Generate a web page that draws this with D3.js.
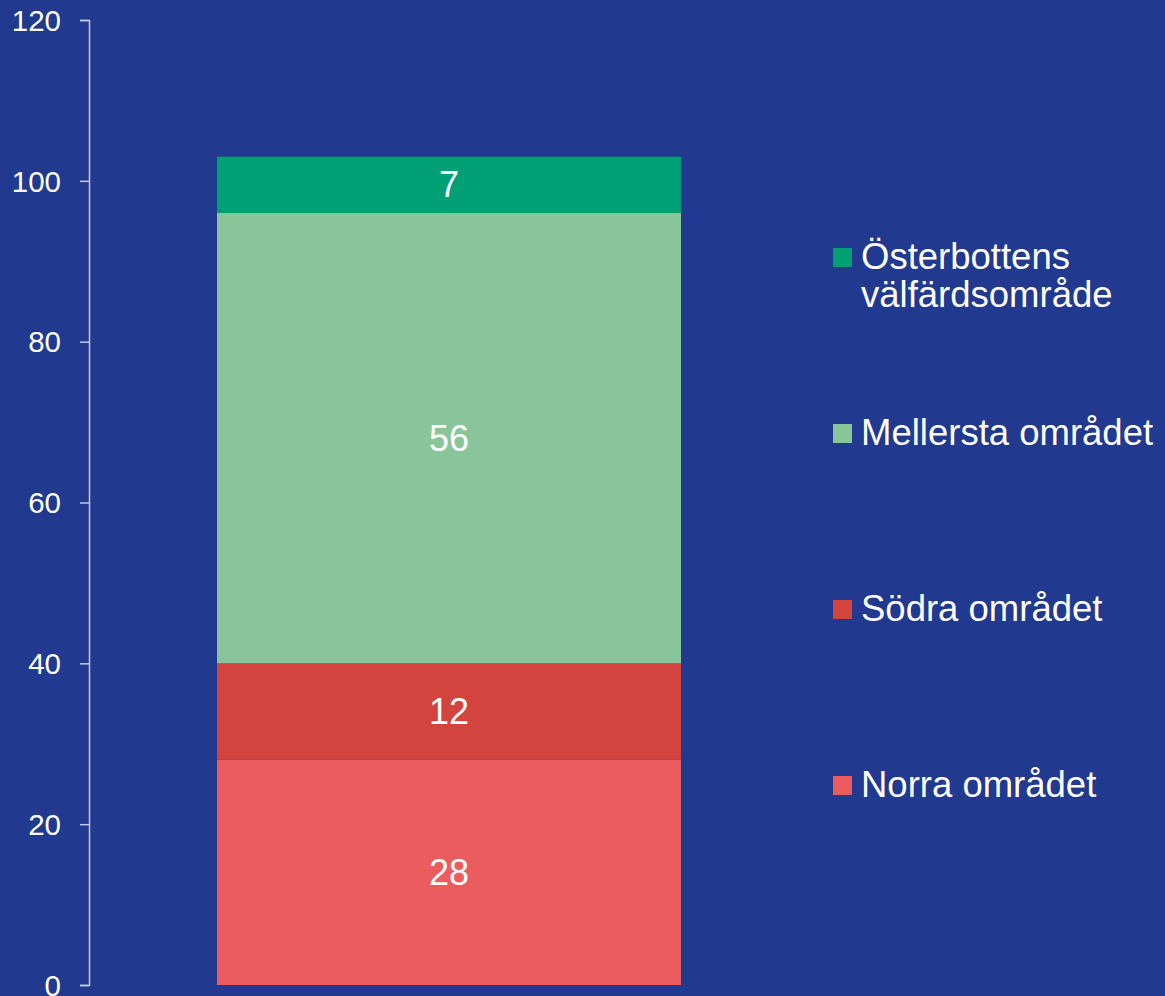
<!DOCTYPE html>
<html>
<head>
<meta charset="utf-8">
<script src="https://cdn.jsdelivr.net/npm/d3@7"></script>
<style>
  html, body { margin: 0; padding: 0; background: #21398e; }
  svg { display: block; font-family: "Liberation Sans", Arial, sans-serif; }
</style>
</head>
<body>
<svg id="chart" width="1165" height="996"></svg>
<script>
// data, bottom to top
const seriesNames = ["Norra området", "Södra området", "Mellersta området", "Österbottens välfärdsområde"];
const seriesValues = [28, 12, 56, 7];
const seriesColors = ["#eb5c5f", "#d3443f", "#88c699", "#00a075"];
const yTicks = [0, 20, 40, 60, 80, 100, 120];

const svg = d3.select("#chart");

// area
const area = { left: 89, top: 20, bottom: 985 };

// scale
const scY = d3.scaleLinear().domain([0, 120]).range([area.bottom, area.top]);
const scX = d3.scaleBand().domain(["all"]).range([217, 681]).padding(0);

// axis Y
const axisY = d3.axisLeft(scY).tickValues(yTicks).tickSize(9).tickSizeOuter(9).tickPadding(19);
const gY = svg.append("g")
    .attr("transform", `translate(${area.left},0)`)
    .call(axisY);
gY.selectAll("path, line").attr("stroke", "#c3cbe6").attr("stroke-width", 1.5);
gY.selectAll("text")
    .attr("fill", "#ffffff")
    .style("font-size", "29.5px")
    .attr("dy", "0.35em");

// stack
let cum = 0;
const segs = seriesValues.map((v, i) => {
    const s = { name: seriesNames[i], v: v, y0: cum, y1: cum + v, color: seriesColors[i] };
    cum += v;
    return s;
});

svg.selectAll(".seg")
    .data(segs)
    .enter()
    .append("rect")
    .attr("x", scX("all"))
    .attr("width", scX.bandwidth())
    .attr("y", d => scY(d.y1))
    .attr("height", d => scY(d.y0) - scY(d.y1))
    .attr("fill", d => d.color);

// value labels
svg.selectAll(".lbl")
    .data(segs)
    .enter()
    .append("text")
    .attr("x", scX("all") + scX.bandwidth() / 2)
    .attr("y", d => scY((d.y0 + d.y1) / 2))
    .attr("dy", "0.35em")
    .attr("text-anchor", "middle")
    .attr("fill", "#ffffff")
    .style("font-size", "36px")
    .text(d => d.v);

// legend, top to bottom
const legendItems = segs.slice().reverse();
const legendLines = [["Österbottens", "välfärdsområde"], ["Mellersta området"], ["Södra området"], ["Norra området"]];
const lg = svg.append("g");
legendItems.forEach((d, i) => {
    const cy = 257.5 + i * 176;
    lg.append("rect")
        .attr("x", 833).attr("y", cy - 9.5)
        .attr("width", 19).attr("height", 19)
        .attr("fill", d.color);
    const t = lg.append("text")
        .attr("x", 861).attr("y", cy + 11)
        .attr("fill", "#ffffff")
        .style("font-size", "36.5px");
    legendLines[i].forEach((line, j) => {
        t.append("tspan").attr("x", 861).attr("dy", j === 0 ? 0 : 38).text(line);
    });
});
</script>
</body>
</html>
